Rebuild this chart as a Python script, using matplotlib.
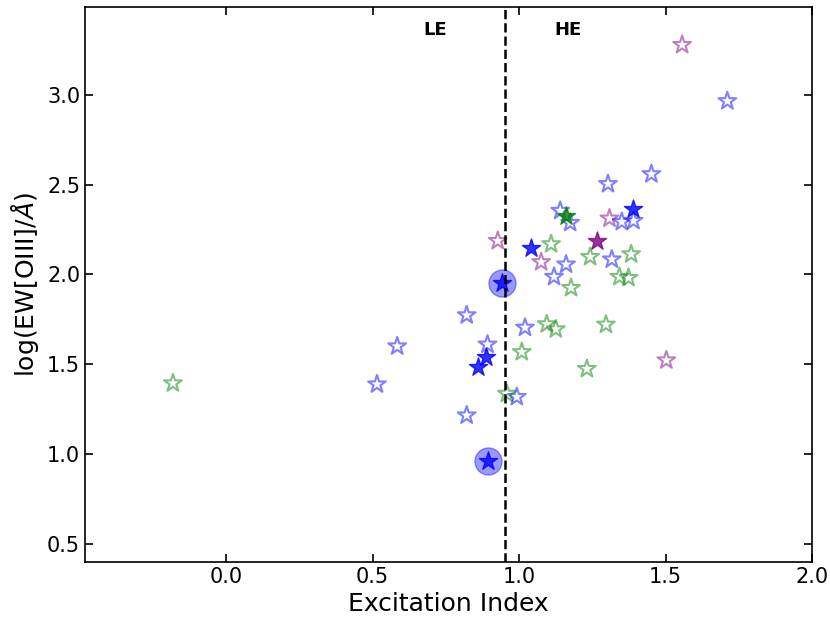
import matplotlib
matplotlib.use("Agg")
import matplotlib.pyplot as plt

# Open blue stars
blue_x = [1.451, 1.303, 1.140, 1.174, 1.350, 1.390, 1.316, 1.160, 1.119, 0.821,
          1.020, 0.892, 0.992, 0.821, 0.584, 0.515, 1.710]
blue_y = [2.559, 2.504, 2.355, 2.288, 2.293, 2.299, 2.084, 2.056, 1.987, 1.773,
          1.704, 1.610, 1.318, 1.215, 1.600, 1.388, 2.966]

# Open green stars
green_x = [-0.181, 1.109, 1.242, 1.382, 1.177, 1.342, 1.373, 1.094, 1.125, 1.296,
           1.009, 1.231, 0.958]
green_y = [1.394, 2.169, 2.098, 2.113, 1.925, 1.987, 1.981, 1.723, 1.695, 1.721,
           1.568, 1.474, 1.336]

# Open purple stars
purple_x = [0.927, 1.075, 1.308, 1.502, 1.556]
purple_y = [2.187, 2.069, 2.312, 1.522, 3.279]

# Filled stars
bluef_x = [1.040, 1.390, 0.887, 0.858, 0.941, 0.895]
bluef_y = [2.145, 2.363, 1.541, 1.485, 1.955, 0.959]
greenf_x = [1.159]
greenf_y = [2.325]
purplef_x = [1.266]
purplef_y = [2.187]

# Circled sources
circ_x = [0.941, 0.895]
circ_y = [1.955, 0.959]

divider = 0.95

fig = plt.figure(figsize=(8.3, 6.23), dpi=100)
ax = fig.add_axes([0.1024, 0.0984, 0.8763, 0.8904])

ax.scatter(circ_x, circ_y, s=380, color='blue', alpha=0.4, edgecolors='blue', zorder=2)
ax.scatter(blue_x, blue_y, marker='*', s=180, facecolors='none', edgecolors='blue',
           alpha=0.5, linewidths=1.5, zorder=3)
ax.scatter(green_x, green_y, marker='*', s=180, facecolors='none', edgecolors='green',
           alpha=0.5, linewidths=1.5, zorder=3)
ax.scatter(purple_x, purple_y, marker='*', s=180, facecolors='none', edgecolors='purple',
           alpha=0.5, linewidths=1.5, zorder=3)
ax.scatter(bluef_x, bluef_y, marker='*', s=190, color='blue', alpha=0.8, zorder=4)
ax.scatter(greenf_x, greenf_y, marker='*', s=190, color='green', alpha=0.8, zorder=4)
ax.scatter(purplef_x, purplef_y, marker='*', s=190, color='purple', alpha=0.8, zorder=4)

ax.axvline(divider, color='black', linestyle='--', linewidth=1.8, zorder=5)
ax.text(0.713, 3.36, 'LE', fontsize=13, fontweight='bold', ha='center', va='center')
ax.text(1.167, 3.36, 'HE', fontsize=13, fontweight='bold', ha='center', va='center')

ax.set_xlim(-0.481, 2.0)
ax.set_ylim(0.4, 3.49)
ax.set_xticks([0.0, 0.5, 1.0, 1.5, 2.0])
ax.set_yticks([0.5, 1.0, 1.5, 2.0, 2.5, 3.0])
ax.tick_params(direction='in', top=True, right=True, labelsize=15, length=6, width=1.2)
for sp in ax.spines.values():
    sp.set_linewidth(1.2)
ax.set_xlabel('Excitation Index', fontsize=18)
ax.set_ylabel(r'log(EW[OIII]/$\AA$)', fontsize=18)

fig.savefig('out.png', dpi=100)
